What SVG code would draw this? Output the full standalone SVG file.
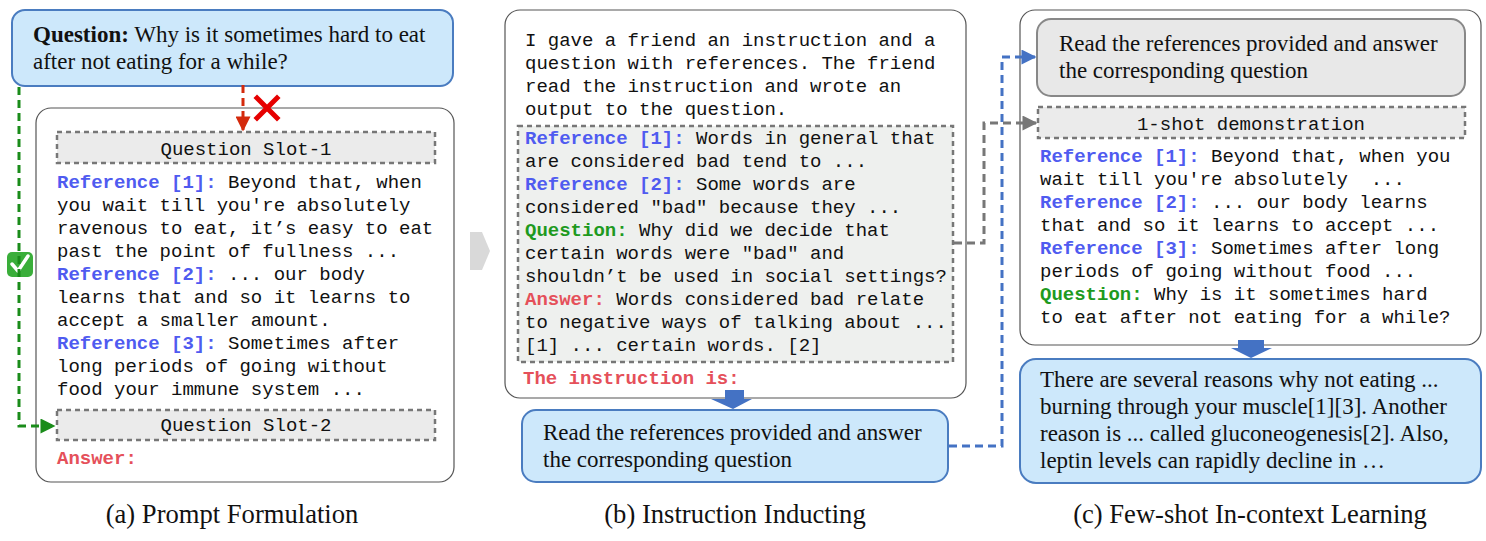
<svg xmlns="http://www.w3.org/2000/svg" width="1486" height="541" viewBox="0 0 1486 541">
<style>
.mono{font-family:"Liberation Mono","Courier New",monospace;font-size:19px;fill:#111;white-space:pre}
.serif{font-family:"Liberation Serif","Times New Roman",serif;font-size:23px;fill:#111}
.cap{font-family:"Liberation Serif","Times New Roman",serif;font-size:26.6px;fill:#111;text-anchor:middle}
.ref{fill:#4f5bf0;font-weight:bold}
.q{fill:#1e9a1e;font-weight:bold}
.ans{fill:#e5505a;font-weight:bold}
.frame{fill:#fff;stroke:#555;stroke-width:1.2}
.slot{fill:#ebebeb;stroke:#777;stroke-width:2.5;stroke-dasharray:5 4}
.blue{fill:#cde8fb;stroke:#4a7cc0;stroke-width:2}
.grayb{fill:#e8e8e8;stroke:#888;stroke-width:2}
</style>
<defs>
<marker id="ag" viewBox="0 0 10 10" refX="9" refY="5" markerWidth="6.5" markerHeight="5" orient="auto" markerUnits="strokeWidth"><path d="M0,0 L10,5 L0,10 z" fill="#1a8c1a"/></marker>
<marker id="ar" viewBox="0 0 10 10" refX="9" refY="5" markerWidth="6.5" markerHeight="5" orient="auto" markerUnits="strokeWidth"><path d="M0,0 L10,5 L0,10 z" fill="#d42a0c"/></marker>
<marker id="ab" viewBox="0 0 10 10" refX="9" refY="5" markerWidth="6.5" markerHeight="5" orient="auto" markerUnits="strokeWidth"><path d="M0,0 L10,5 L0,10 z" fill="#4472c4"/></marker>
<marker id="agr" viewBox="0 0 10 10" refX="9" refY="5" markerWidth="6.5" markerHeight="5" orient="auto" markerUnits="strokeWidth"><path d="M0,0 L10,5 L0,10 z" fill="#777"/></marker>
</defs>
<rect width="1486" height="541" fill="#fff"/>

<!-- Panel a -->
<g id="a-frame"><rect class="frame" x="36" y="108" width="418" height="374" rx="15"/></g>
<g id="a-question">
<rect class="blue" x="12" y="10" width="441" height="76" rx="13"/>
<text class="serif" x="33" y="42"><tspan font-weight="bold">Question:</tspan> Why is it sometimes hard to eat</text>
<text class="serif" x="33" y="69">after not eating for a while?</text>
</g>
<g id="a-slot1"><rect class="slot" x="57" y="132" width="378" height="31"/><text class="mono" x="246" y="155" text-anchor="middle">Question Slot-1</text></g>
<g id="a-refs">
<text class="mono" x="57" y="188"><tspan class="ref">Reference [1]:</tspan> Beyond that, when</text>
<text class="mono" x="57" y="211">you wait till you're absolutely</text>
<text class="mono" x="57" y="234">ravenous to eat, it’s easy to eat</text>
<text class="mono" x="57" y="257">past the point of fullness ...</text>
<text class="mono" x="57" y="280"><tspan class="ref">Reference [2]:</tspan> ... our body</text>
<text class="mono" x="57" y="303">learns that and so it learns to</text>
<text class="mono" x="57" y="326">accept a smaller amount.</text>
<text class="mono" x="57" y="349"><tspan class="ref">Reference [3]:</tspan> Sometimes after</text>
<text class="mono" x="57" y="372">long periods of going without</text>
<text class="mono" x="57" y="395">food your immune system ...</text>
</g>
<g id="a-slot2"><rect class="slot" x="57" y="410" width="378" height="30"/><text class="mono" x="246" y="431" text-anchor="middle">Question Slot-2</text></g>
<g id="a-answer"><text class="mono ans" x="57" y="464">Answer:</text></g>
<g id="a-check">
<rect x="7" y="252" width="26" height="25" rx="5" fill="#3aae3a"/>
<path d="M12,264 L18,271 L28,256" fill="none" stroke="#fff" stroke-width="3.5" stroke-linecap="round" stroke-linejoin="round"/>
</g>
<g id="a-cross">
<path d="M257,98 L277,118 M277,98 L257,118" stroke="#e60000" stroke-width="5" stroke-linecap="square"/>
</g>

<!-- Panel b -->
<g id="b-chevron"><path d="M470,232 L482,232 L490,251 L482,270 L470,270 Z" fill="#d9d9d9"/></g>
<g id="b-frame"><rect class="frame" x="505" y="10" width="461" height="388" rx="15"/></g>
<g id="b-intro">
<text class="mono" x="525" y="46">I gave a friend an instruction and a</text>
<text class="mono" x="525" y="69">question with references. The friend</text>
<text class="mono" x="525" y="92">read the instruction and wrote an</text>
<text class="mono" x="525" y="115">output to the question.</text>
</g>
<g id="b-demo">
<rect x="518" y="126" width="435" height="236" fill="#eef0ee" stroke="#777" stroke-width="2.5" stroke-dasharray="5 4"/>
<text class="mono" x="525" y="144"><tspan class="ref">Reference [1]:</tspan> Words in general that</text>
<text class="mono" x="525" y="167">are considered bad tend to ...</text>
<text class="mono" x="525" y="190"><tspan class="ref">Reference [2]:</tspan> Some words are</text>
<text class="mono" x="525" y="213">considered "bad" because they ...</text>
<text class="mono" x="525" y="236"><tspan class="q">Question:</tspan> Why did we decide that</text>
<text class="mono" x="525" y="259">certain words were "bad" and</text>
<text class="mono" x="525" y="282">shouldn’t be used in social settings?</text>
<text class="mono" x="525" y="305"><tspan class="ans">Answer:</tspan> Words considered bad relate</text>
<text class="mono" x="525" y="328">to negative ways of talking about ...</text>
<text class="mono" x="525" y="351">[1] ... certain words. [2]</text>
</g>
<g id="b-instr"><text class="mono ans" x="523" y="384">The instruction is:</text></g>
<g id="b-down"><path d="M725,390 L744,390 L744,399 L752,399 L733,409 L711,399 L725,399 Z" fill="#4472c4"/></g>
<g id="b-output">
<rect class="blue" x="522" y="410" width="426" height="72" rx="14"/>
<text class="serif" x="543" y="440">Read the references provided and answer</text>
<text class="serif" x="543" y="467">the corresponding question</text>
</g>

<!-- Panel c -->
<g id="c-frame"><rect class="frame" x="1020" y="10" width="461" height="335" rx="15"/></g>
<g id="c-instr">
<rect class="grayb" x="1037" y="19" width="428" height="77" rx="14"/>
<text class="serif" x="1059" y="51">Read the references provided and answer</text>
<text class="serif" x="1059" y="78">the corresponding question</text>
</g>
<g id="c-oneshot"><rect class="slot" x="1038" y="107" width="427" height="31"/><text class="mono" x="1251" y="130" text-anchor="middle">1-shot demonstration</text></g>
<g id="c-refs">
<text class="mono" x="1040" y="162"><tspan class="ref">Reference [1]:</tspan> Beyond that, when you</text>
<text class="mono" x="1040" y="185">wait till you're absolutely  ...</text>
<text class="mono" x="1040" y="208"><tspan class="ref">Reference [2]:</tspan> ... our body learns</text>
<text class="mono" x="1040" y="231">that and so it learns to accept ...</text>
<text class="mono" x="1040" y="254"><tspan class="ref">Reference [3]:</tspan> Sometimes after long</text>
<text class="mono" x="1040" y="277">periods of going without food ...</text>
<text class="mono" x="1040" y="300"><tspan class="q">Question:</tspan> Why is it sometimes hard</text>
<text class="mono" x="1040" y="323">to eat after not eating for a while?</text>
</g>
<g id="c-down"><path d="M1238,340 L1264,340 L1264,348 L1272,348 L1251,358 L1231,348 L1238,348 Z" fill="#4472c4"/></g>
<g id="c-output">
<rect class="blue" x="1020" y="359" width="461" height="124" rx="16"/>
<text class="serif" x="1040" y="387">There are several reasons why not eating ...</text>
<text class="serif" x="1040" y="414">burning through your muscle[1][3]. Another</text>
<text class="serif" x="1040" y="441">reason is ... called gluconeogenesis[2]. Also,</text>
<text class="serif" x="1040" y="468">leptin levels can rapidly decline in …</text>
</g>

<!-- Connectors -->
<g id="connectors" fill="none">
<path d="M19,87 L19,426 L54,426" stroke="#1a8c1a" stroke-width="3" stroke-dasharray="8 5" marker-end="url(#ag)"/>
<path d="M243,85 L243,130" stroke="#d42a0c" stroke-width="3" stroke-dasharray="8 5" marker-end="url(#ar)"/>
<path d="M949,446 L1002,446 L1002,57 L1035,57" stroke="#4472c4" stroke-width="3" stroke-dasharray="8 5" marker-end="url(#ab)"/>
<path d="M954,243 L984,243 L984,123 L1036,123" stroke="#777" stroke-width="3" stroke-dasharray="8 5" marker-end="url(#agr)"/>
</g>

<!-- Captions -->
<g id="captions">
<text class="cap" x="232" y="523">(a) Prompt Formulation</text>
<text class="cap" x="735" y="523">(b) Instruction Inducting</text>
<text class="cap" x="1250" y="523">(c) Few-shot In-context Learning</text>
</g>
</svg>
